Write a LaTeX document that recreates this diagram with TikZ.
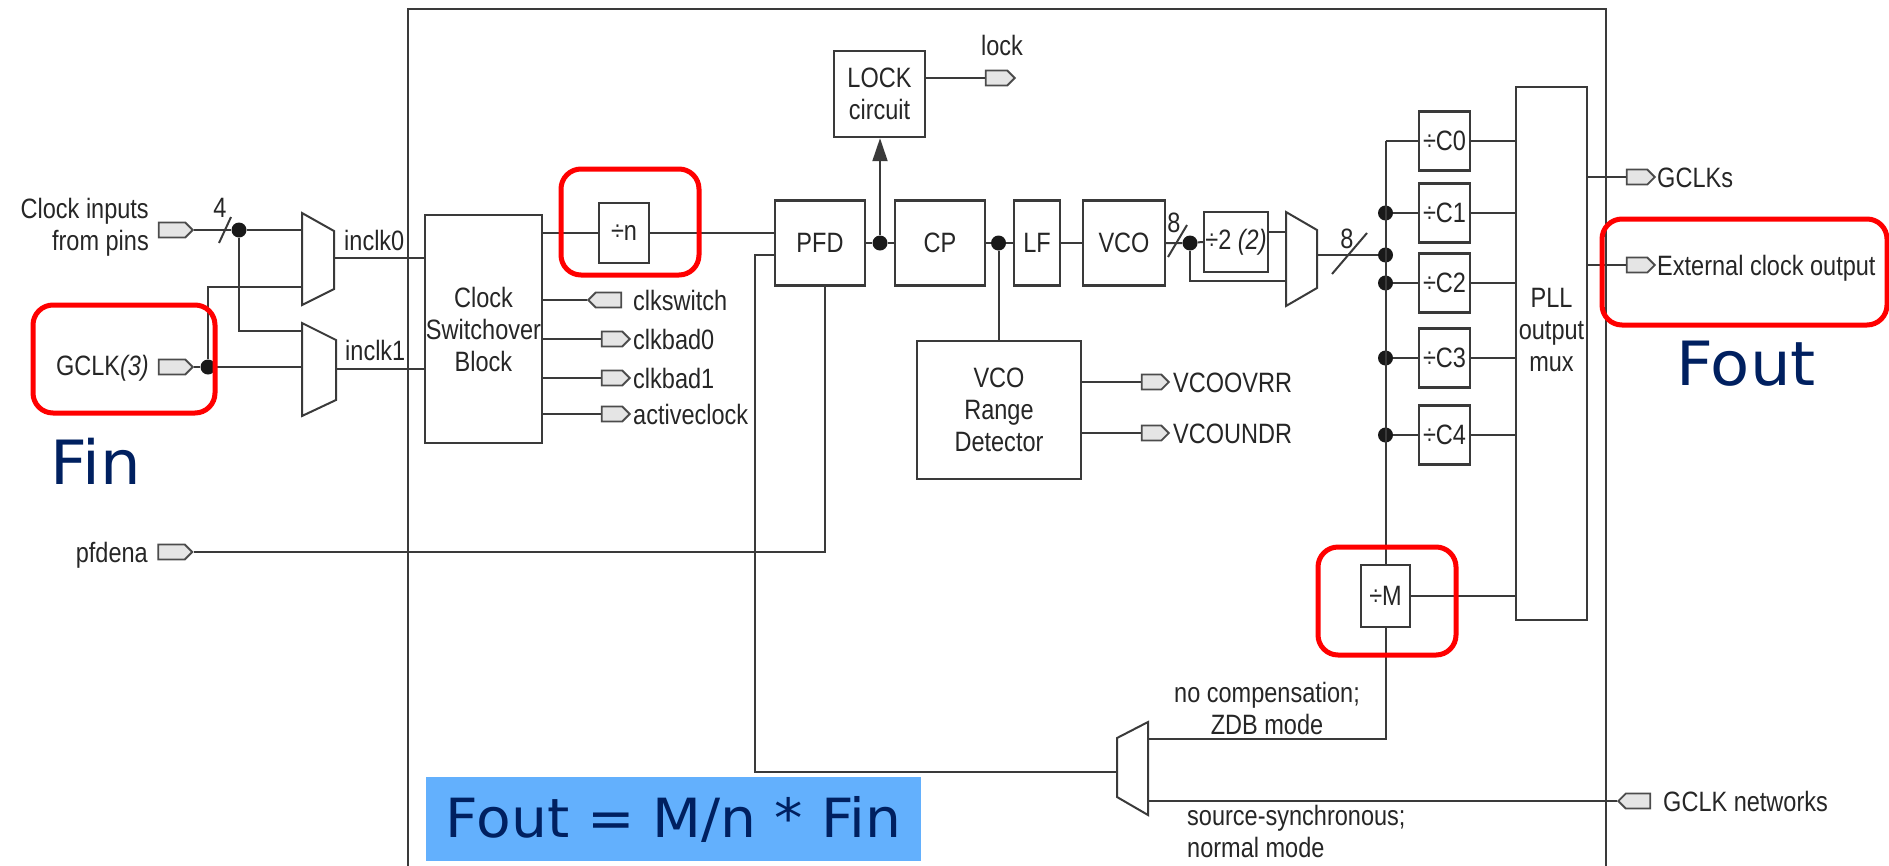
\documentclass[tikz,border=0pt]{standalone}
\usepackage{fontspec}
\setmainfont{Liberation Sans}[FakeStretch=0.84]
\newfontfamily\bluefont{DejaVu Sans}[FakeStretch=1.05]
\usetikzlibrary{shapes.symbols,arrows.meta}
\definecolor{ln}{HTML}{3A3A3A}
\definecolor{txt}{HTML}{262626}
\definecolor{navy}{RGB}{0,32,96}
\definecolor{formbg}{HTML}{63B0FD}
\begin{document}
\begin{tikzpicture}[x=1pt,y=-1pt,line join=miter,
  every node/.style={font=\fontsize{28}{32}\selectfont,text=txt,inner sep=0pt},
  wire/.style={draw=ln,line width=2pt},
  muxst/.style={draw=ln,line width=2pt,fill=white},
  blk/.style={draw=ln,line width=2.4pt,fill=white,align=center,inner sep=0pt},
  lbl/.style={text height=20pt,text depth=0pt},
  pinout/.style={signal,signal to=east,draw=black!70,fill=black!10,line width=1.8pt,
     minimum height=15pt,inner sep=0pt,signal pointer angle=90},
  pinin/.style={signal,signal to=west,draw=black!70,fill=black!10,line width=1.8pt,
     minimum height=15pt,inner sep=0pt,signal pointer angle=90},
  dot/.style={circle,fill=black!90,inner sep=0pt,minimum size=15pt},
  redbox/.style={draw=red,line width=5pt,rounded corners=20pt},
  bluetxt/.style={font=\bluefont\fontsize{61}{70}\selectfont,text=navy}
]
\useasboundingbox (0,0) rectangle (1889,865);
\clip (0,0) rectangle (1889,865);

% outer frame
\draw[wire] (408,880) -- (408,9) -- (1606,9) -- (1606,880);

% ---------- input side ----------
\node[pinout,minimum width=34pt] (pclk) at (172,230) {};
\node[pinout,minimum width=34pt] (pgclk) at (172,367) {};
\node[pinout,minimum width=34pt] (pfdenapin) at (171.5,552) {};
\node[align=right,anchor=east] (lclk) at (149,227) {Clock inputs\\from pins};
\node[lbl,anchor=east] (lgclk) at (149,365) {GCLK\textit{(3)}};
\node[lbl,anchor=east] (lpfdena) at (148,552) {pfdena};

\node[dot] (d4) at (239,230) {};
\node[dot] (dg) at (208,367) {};

% mux0
\draw[muxst] (302,213) -- (334,231) -- (334,289) -- (302,305) -- cycle;
\coordinate (in0a) at (302,230);
\coordinate (in0b) at (302,287);
\coordinate (out0) at (334,258);
% mux1
\draw[muxst] (302,323) -- (336,340) -- (336,400) -- (302,416) -- cycle;
\coordinate (in1a) at (302,331);
\coordinate (in1b) at (302,367);
\coordinate (out1) at (336,369);

\draw[wire] (pclk.east) -- (d4) -- (in0a);
\draw[wire] (d4) |- (in1a);
\draw[wire] (pgclk.east) -- (dg) -- (in1b);
\draw[wire] (dg) |- (in0b);
\draw[wire] (219,243) -- (231,217);
\node[lbl] (l4) at (220,207) {4};

% clock switchover block
\node[blk,minimum width=117,minimum height=228] (csb) at (483.5,329) {Clock\\Switchover\\Block};
\draw[wire] (out0) -- (out0 -| csb.west);
\draw[wire] (out1) -- (out1 -| csb.west);
\node[lbl,anchor=west] (linclk0) at (344,240) {inclk0};
\node[lbl,anchor=west] (linclk1) at (345,350) {inclk1};

\node[pinin,minimum width=33pt] (pclksw) at (608.5,300) {};
\node[pinout,minimum width=28pt] (pbad0) at (612,339) {};
\node[pinout,minimum width=28pt] (pbad1) at (612,378) {};
\node[pinout,minimum width=28pt] (pact) at (612,414) {};
\draw[wire] (csb.east |- pclksw) -- (pclksw.west);
\draw[wire] (csb.east |- pbad0) -- (pbad0.west);
\draw[wire] (csb.east |- pbad1) -- (pbad1.west);
\draw[wire] (csb.east |- pact) -- (pact.west);
\node[lbl,anchor=west] (lclksw) at (633,300) {clkswitch};
\node[lbl,anchor=west] (lbad0) at (633,339) {clkbad0};
\node[lbl,anchor=west] (lbad1) at (633,378) {clkbad1};
\node[lbl,anchor=west] (lact) at (633,414) {activeclock};

% ---------- PLL core ----------
\node[blk,minimum width=50,minimum height=60] (divn) at (624,233) {÷n};
\draw[wire] (csb.east |- divn.west) -- (divn.west);
\node[blk,minimum width=90,minimum height=85] (pfd) at (820,243) {PFD};
\draw[wire] (divn.east) -- (divn.east -| pfd.west);
\node[blk,minimum width=91,minimum height=86] (lock) at (879.5,94) {LOCK\\circuit};
\node[blk,minimum width=90,minimum height=85] (cp) at (940,243) {CP};
\node[blk,minimum width=46,minimum height=85] (lf) at (1037,243) {LF};
\node[blk,minimum width=82,minimum height=85] (vco) at (1124,243) {VCO};
\node[blk,minimum width=64,minimum height=60] (div2) at (1236,242) {÷2 \textit{(2)}};
\node[blk,minimum width=164,minimum height=138] (vcord) at (999,410) {VCO\\Range\\Detector};

\node[dot] (dpfd) at (880,243) {};
\node[dot] (dcp) at (998.5,243) {};
\node[dot] (dvco) at (1190,243) {};

\draw[wire] (pfd.east) -- (dpfd) -- (cp.west);
\draw[wire,-{Triangle[length=23pt,width=15pt]}] (dpfd) -- (dpfd |- lock.south);
\node[pinout,minimum width=29pt] (plock) at (996.5,78) {};
\draw[wire] (lock.east |- plock) -- (plock.west);
\node[lbl] (llock) at (1002,45) {lock};

\draw[wire] (cp.east) -- (dcp) -- (lf.west);
\draw[wire] (dcp) -- (dcp |- vcord.north);
\draw[wire] (lf.east) -- (vco.west);
\draw[wire] (vco.east) -- (dvco) -- (div2.west);
\draw[wire] (1168,257) -- (1187,225);
\node[lbl] (l8a) at (1174,222) {8};

\node[pinout,minimum width=27pt] (povr) at (1151.5,382) {};
\node[pinout,minimum width=27pt] (pund) at (1151.5,433) {};
\draw[wire] (vcord.east |- povr) -- (povr.west);
\draw[wire] (vcord.east |- pund) -- (pund.west);
\node[lbl,anchor=west] (lovr) at (1173,382) {VCOOVRR};
\node[lbl,anchor=west] (lund) at (1173,433) {VCOUNDR};

% mux2
\draw[muxst] (1286,212) -- (1317,230) -- (1317,288) -- (1286,306) -- cycle;
\coordinate (in2a) at (1286,232);
\coordinate (in2b) at (1286,281);
\coordinate (out2) at (1317,255);
\draw[wire] (div2.east |- in2a) -- (in2a);
\draw[wire] (dvco) |- (in2b);

% ---------- post-scale counters ----------
\node[blk,minimum width=51,minimum height=59] (c0) at (1444.5,141) {÷C0};
\node[blk,minimum width=51,minimum height=59] (c1) at (1444.5,213) {÷C1};
\node[blk,minimum width=51,minimum height=59] (c2) at (1444.5,283) {÷C2};
\node[blk,minimum width=51,minimum height=59] (c3) at (1444.5,358) {÷C3};
\node[blk,minimum width=51,minimum height=59] (c4) at (1444.5,435) {÷C4};
\node[blk,minimum width=49,minimum height=62] (divM) at (1385.5,596) {÷M};
\node[blk,minimum width=71,minimum height=533] (pllmux) at (1551.5,353.5) {};
\node[align=center] (lpllmux) at (1551.5,330) {PLL\\output\\mux};

\coordinate (busTop) at (1385.5,141);
\node[dot] (dc1) at (1385.5,213) {};
\node[dot] (db) at (1385.5,255) {};
\node[dot] (dc2) at (1385.5,283) {};
\node[dot] (dc3) at (1385.5,358) {};
\node[dot] (dc4) at (1385.5,435) {};
\draw[wire] (busTop) -- (divM.north);
\draw[wire] (busTop) -- (c0.west);
\draw[wire] (dc1) -- (c1.west);
\draw[wire] (dc2) -- (c2.west);
\draw[wire] (dc3) -- (c3.west);
\draw[wire] (dc4) -- (c4.west);
\draw[wire] (out2) -- (db);
\draw[wire] (1332,274) -- (1367,233);
\node[lbl] (l8b) at (1347,238) {8};

\draw[wire] (c0.east) -- (c0.east -| pllmux.west);
\draw[wire] (c1.east) -- (c1.east -| pllmux.west);
\draw[wire] (c2.east) -- (c2.east -| pllmux.west);
\draw[wire] (c3.east) -- (c3.east -| pllmux.west);
\draw[wire] (c4.east) -- (c4.east -| pllmux.west);
\draw[wire] (divM.east) -- (divM.east -| pllmux.west);

\node[pinout,minimum width=28pt] (pgclks) at (1637,177) {};
\node[pinout,minimum width=28pt] (pext) at (1637,265) {};
\draw[wire] (pllmux.east |- pgclks) -- (pgclks.west);
\draw[wire] (pllmux.east |- pext) -- (pext.west);
\node[lbl,anchor=west] (lgclks) at (1657,177) {GCLKs};
\node[lbl,anchor=west] (lext) at (1657,265) {External clock output};

% ---------- feedback mux ----------
\draw[muxst] (1148,722) -- (1117,738) -- (1117,797) -- (1148,815) -- cycle;
\coordinate (in3a) at (1148,739);
\coordinate (in3b) at (1148,801);
\coordinate (out3) at (1117,772);
\coordinate (fb) at (755,255);
\draw[wire] (divM.south) |- (in3a);
\node[pinin,minimum width=32pt] (pnet) at (1638,801) {};
\draw[wire] (pnet.west) -- (in3b);
\node[lbl,anchor=west] (lnet) at (1663,801) {GCLK networks};
\draw[wire] (out3) -| (fb) -- (fb -| pfd.west);
\draw[wire] (pfdenapin.east) -| ([xshift=5pt]pfd.south);

\node[align=center] (lzdb) at (1267,708) {no compensation;\\ZDB mode};
\node[align=left,anchor=west] (lnorm) at (1187,831) {source-synchronous;\\normal mode};

% ---------- annotations ----------
\draw[redbox] (33,305) rectangle (215,413);
\draw[redbox] (561,169) rectangle (699,275);
\draw[redbox] (1318,547) rectangle (1456,655);
\draw[redbox] (1602,219) rectangle (1887,325);

\node[bluetxt,anchor=base west] (fin) at (50,484) {Fin};
\node[bluetxt,anchor=base west] (fout) at (1676,385) {Fout};
\node[fill=formbg,minimum width=495,minimum height=84,anchor=north west,
      font=\bluefont\fontsize{54}{60}\selectfont,text=navy] (formula) at (426,777) {Fout = M/n * Fin};
\end{tikzpicture}
\end{document}
